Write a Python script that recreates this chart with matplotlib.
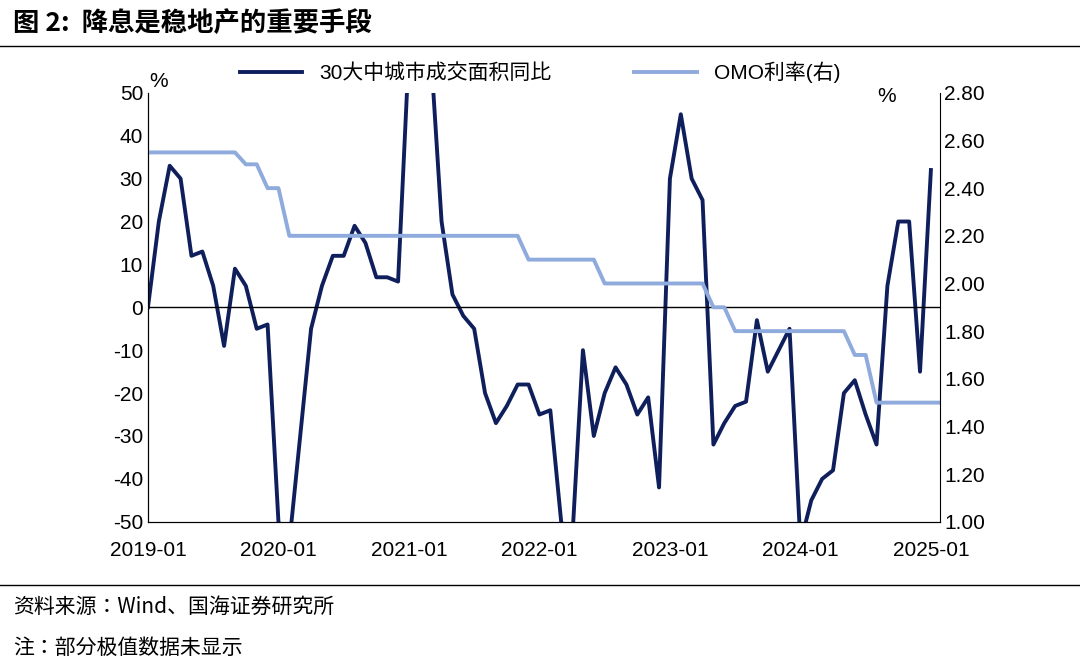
import matplotlib
matplotlib.use("Agg")
import matplotlib.pyplot as plt
from matplotlib import font_manager as fm
import numpy as np

cjk_names = sorted({f.name for f in fm.fontManager.ttflist if "CJK" in f.name})
cjk = next((n for n in cjk_names if "SC" in n), cjk_names[0] if cjk_names else "DejaVu Sans")
plt.rcParams["font.family"] = ["Liberation Sans", cjk]
plt.rcParams["axes.unicode_minus"] = False

tick_labels = ["2019-01", "2020-01", "2021-01", "2022-01", "2023-01", "2024-01", "2025-01"]
area_yoy = [0, 20, 33, 30, 12, 13, 5, -9, 9, 5, -5, -4,
            -50, -55, -30, -5, 5, 12, 12, 19, 15, 7, 7, 6,
            60, 120, 60, 20, 3, -2, -5, -20, -27, -23, -18, -18,
            -25, -24, -50, -55, -10, -30, -20, -14, -18, -25, -21, -42,
            30, 45, 30, 25, -32, -27, -23, -22, -3, -15, -10, -5,
            -55, -45, -40, -38, -20, -17, -25, -32, 5, 20, 20, -15, 32]
omo = [2.55]*9 + [2.50, 2.50, 2.40, 2.40, 2.20] + [2.20]*21 + [2.10]*7 + [2.00]*10 + \
      [1.90, 1.90] + [1.80]*11 + [1.70, 1.70] + [1.50]*7

fig = plt.figure(figsize=(10.8, 6.63), dpi=100)
ax = fig.add_axes([0.137, 0.213, 0.733, 0.647])
ax2 = ax.twinx()
navy = "#0F1F5C"
light = "#8FAADC"
l1, = ax.plot(range(len(area_yoy)), area_yoy, color=navy, lw=2.8, label="30大中城市成交面积同比")
l2, = ax2.plot(np.arange(len(omo)), omo, color=light, lw=2.8, label="OMO利率(右)")
ax.set_ylim(-50, 50)
ax.set_yticks(range(-50, 51, 10))
ax2.set_ylim(1.0, 2.8)
ax2.set_yticks(np.arange(1.0, 2.81, 0.2))
ax2.set_yticklabels([f"{v:.2f}" for v in np.arange(1.0, 2.81, 0.2)])
ax.set_xlim(0, 72.8)
ax.set_xticks(range(0, 73, 12))
ax.set_xticklabels(tick_labels)
ax.axhline(0, color="black", lw=1)
for a in (ax, ax2):
    a.spines["top"].set_visible(False)
    a.tick_params(labelsize=15, direction="in", length=0)
ax.spines["right"].set_visible(False)
ax.tick_params(axis="x", length=0, pad=14)
fig.text(0.138, 0.862, "%", fontsize=15, va="bottom")
fig.text(0.812, 0.84, "%", fontsize=15, va="bottom")
fig.legend(handles=[l1, l2], loc="upper center", bbox_to_anchor=(0.5, 0.935), ncol=2,
           frameon=False, fontsize=15, handlelength=3, columnspacing=4)
fig.text(0.012, 0.965, "图 2:  降息是稳地产的重要手段", fontsize=19, fontweight="bold",
         family=cjk, va="center")
fig.add_artist(plt.Line2D([0.0, 1.0], [0.93, 0.93], color="black", lw=1, transform=fig.transFigure))
fig.add_artist(plt.Line2D([0.0, 1.0], [0.118, 0.118], color="black", lw=1, transform=fig.transFigure))
fig.text(0.012, 0.085, "资料来源：Wind、国海证券研究所", fontsize=15, family=cjk, va="center")
fig.text(0.012, 0.022, "注：部分极值数据未显示", fontsize=15, family=cjk, va="center")
fig.savefig("out.png", dpi=100)
